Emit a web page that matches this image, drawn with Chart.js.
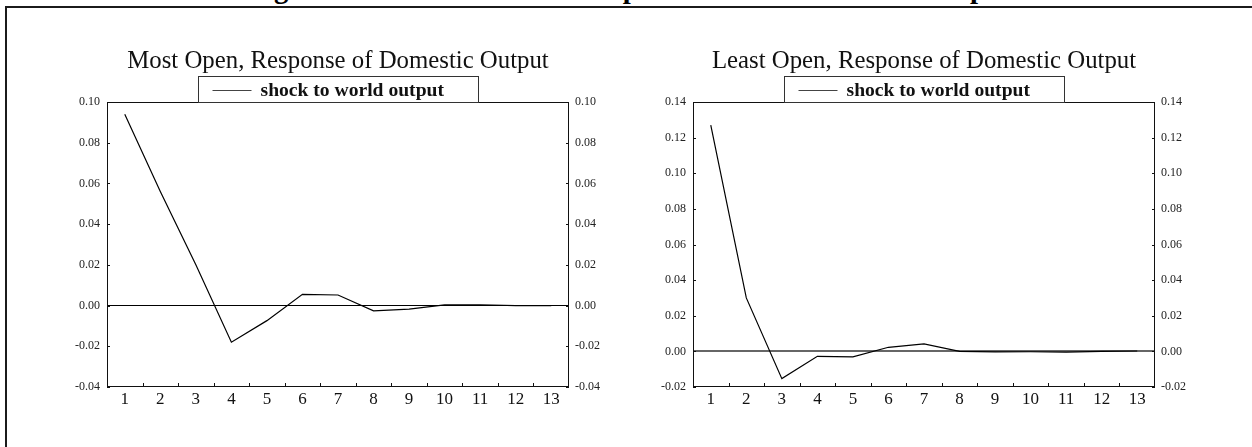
<!DOCTYPE html>
<html>
<head>
<meta charset="utf-8">
<script src="https://cdn.jsdelivr.net/npm/chart.js@4.4.0/dist/chart.umd.min.js"></script>
<style>
  html, body { margin:0; padding:0; background:#fff; width:1252px; height:447px; overflow:hidden; }
  #frame { position:absolute; left:5px; top:6px; width:1300px; height:500px; border-left:2px solid #1b1b1b; border-top:2px solid #1b1b1b; }
  #figtitle { position:absolute; left:4px; width:1252px; top:-26px; text-align:center; font-family:"Liberation Serif", serif; font-weight:bold; font-size:28.7px; line-height:1; white-space:nowrap; color:#000; }
  canvas { position:absolute; }
</style>
</head>
<body>
<div id="figtitle">Figure 5: Effects of World Output Shocks on Domestic Output</div>
<div id="frame"></div>
<canvas id="grafico1" width="616" height="417" style="left:30px;top:30px"></canvas>
<canvas id="grafico2" width="608" height="417" style="left:620px;top:30px"></canvas>
<script>
// horizons 1..13
const periods = ['1', '2', '3', '4', '5', '6', '7', '8', '9', '10', '11', '12', '13'];

// response of domestic output to a world output shock
const mostOpen  = [0.094, 0.056, 0.020, -0.018, -0.0074, 0.0055, 0.0052, -0.0026, -0.0017, 0.0003, 0.0004, 0.0000, 0.0000];
const leastOpen = [0.127, 0.030, -0.0153, -0.0028, -0.0031, 0.0023, 0.0042, 0.0000, -0.0003, -0.0002, -0.0004, 0.0000, 0.0002];

// y axis tick labels
const ticksMostOpen  = [-0.04, -0.02, 0.00, 0.02, 0.04, 0.06, 0.08, 0.10];
const ticksLeastOpen = [-0.02, 0.00, 0.02, 0.04, 0.06, 0.08, 0.10, 0.12, 0.14];

const legendLabel = 'shock to world output';
const serif = 'Liberation Serif';

// frame, inner tick marks and the boxed legend on top of the plot
const decor = {
    id: 'decor',
    afterDraw(chart) {
        const ctx = chart.ctx;
        const a = chart.chartArea;
        const x = chart.scales.x;
        const y = chart.scales.y;
        ctx.save();
        ctx.strokeStyle = '#111';
        ctx.lineWidth = 1;
        ctx.strokeRect(a.left + 0.5, a.top + 0.5, a.right - a.left - 1, a.bottom - a.top - 1);

        ctx.beginPath();
        for (let i = 1; i < periods.length; i++) {
            const px = Math.round((x.getPixelForValue(i - 1) + x.getPixelForValue(i)) / 2) + 0.5;
            ctx.moveTo(px, a.bottom);
            ctx.lineTo(px, a.bottom - 4);
        }
        y.ticks.forEach(t => {
            const py = Math.round(y.getPixelForValue(t.value)) + 0.5;
            ctx.moveTo(a.left, py);
            ctx.lineTo(a.left + 3, py);
            ctx.moveTo(a.right, py);
            ctx.lineTo(a.right - 3, py);
        });
        ctx.stroke();

        // legend box
        const bw = 280, bh = 26;
        const bx = Math.round((a.left + a.right) / 2 - bw / 2) + 0.5;
        const by = Math.round(a.top - bh) + 0.5;
        ctx.fillStyle = '#fff';
        ctx.fillRect(bx, by, bw, bh);
        ctx.strokeStyle = '#333';
        ctx.strokeRect(bx, by, bw, bh);
        ctx.strokeStyle = '#444';
        ctx.beginPath();
        ctx.moveTo(bx + 14, by + 14);
        ctx.lineTo(bx + 53, by + 14);
        ctx.stroke();
        ctx.fillStyle = '#111';
        ctx.font = 'bold 19.6px "' + serif + '"';
        ctx.textBaseline = 'middle';
        ctx.textAlign = 'left';
        ctx.fillText(chart.data.datasets[0].label, bx + 62, by + 14);
        ctx.restore();
    }
};

function fmt(v) {
    return Math.abs(v) < 1e-9 ? '0.00' : v.toFixed(2);
}

function makeChart(id, title, values, yTicks, leftW, rightW, zeroColor, zeroWidth) {
    const lo = yTicks[0], hi = yTicks[yTicks.length - 1];
    const tickFont = { family: serif, size: 12 };
    return new Chart(document.getElementById(id).getContext('2d'), {
        type: 'line',
        data: {
            labels: periods,
            datasets: [{
                label: legendLabel,
                data: values,
                borderColor: '#000',
                borderWidth: 1.2,
                pointRadius: 0,
                tension: 0,
                fill: false,
                yAxisID: 'y'
            }]
        },
        options: {
            responsive: false,
            animation: false,
            devicePixelRatio: 1,
            layout: { padding: 0 },
            plugins: {
                legend: { display: false },
                tooltip: { enabled: false },
                title: {
                    display: true,
                    text: title,
                    color: '#111',
                    font: { family: serif, size: 24.8, weight: 'normal', lineHeight: 1 },
                    padding: { top: 19, bottom: 28.2 }
                }
            },
            scales: {
                x: {
                    offset: true,
                    grid: { display: false, drawTicks: false },
                    border: { display: false },
                    ticks: { color: '#111', font: { family: serif, size: 17 }, padding: 2, maxRotation: 0, autoSkip: false },
                    afterFit: s => { s.height = 60; }
                },
                y: {
                    position: 'left',
                    min: lo,
                    max: hi,
                    grid: {
                        drawTicks: false,
                        color: c => Math.abs(c.tick.value) < 1e-9 ? zeroColor : 'rgba(0,0,0,0)',
                        lineWidth: c => Math.abs(c.tick.value) < 1e-9 ? zeroWidth : 0
                    },
                    border: { display: false },
                    ticks: { color: '#222', font: tickFont, padding: 7, callback: v => fmt(v) },
                    afterBuildTicks: s => { s.ticks = yTicks.map(v => ({ value: v })); },
                    afterFit: s => { s.width = leftW; }
                },
                y2: {
                    position: 'right',
                    min: lo,
                    max: hi,
                    grid: { display: false, drawTicks: false },
                    border: { display: false },
                    ticks: { color: '#222', font: tickFont, padding: 6, callback: v => fmt(v) },
                    afterBuildTicks: s => { s.ticks = yTicks.map(v => ({ value: v })); },
                    afterFit: s => { s.width = rightW; }
                }
            }
        },
        plugins: [decor]
    });
}

const chart1 = makeChart('grafico1', 'Most Open, Response of Domestic Output', mostOpen, ticksMostOpen, 77, 77, '#000', 1);
const chart2 = makeChart('grafico2', 'Least Open, Response of Domestic Output', leastOpen, ticksLeastOpen, 73, 73, '#666', 2);
</script>
</body>
</html>
